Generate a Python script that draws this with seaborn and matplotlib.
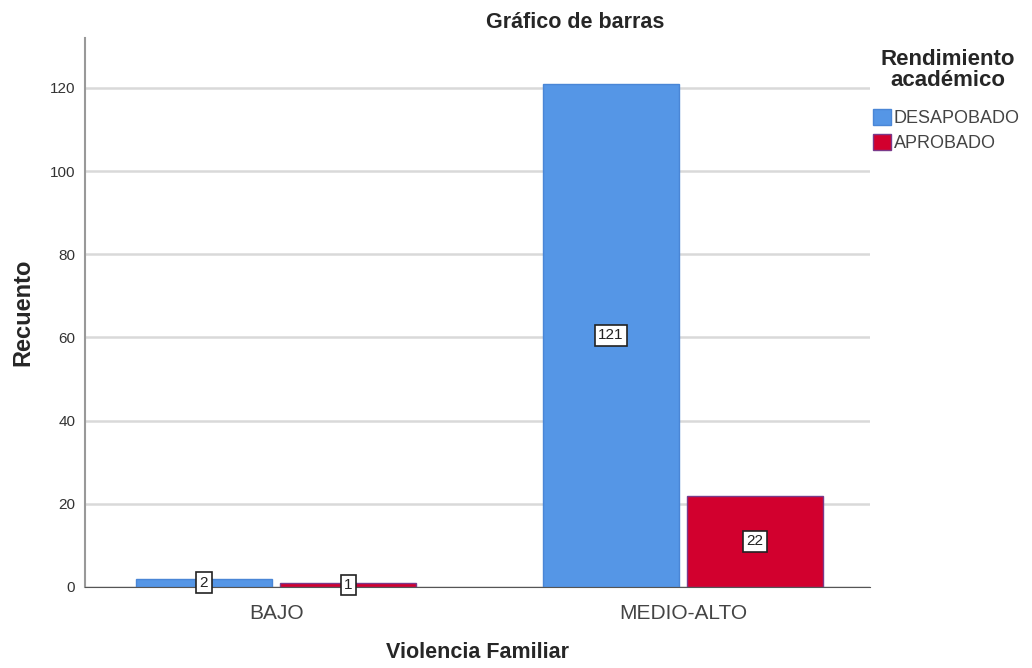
import pandas as pd
import seaborn as sns
import matplotlib.pyplot as plt
from matplotlib.patches import Patch

# datos
violencia = ['BAJO', 'BAJO', 'MEDIO-ALTO', 'MEDIO-ALTO']
rendimiento = ['DESAPOBADO', 'APROBADO', 'DESAPOBADO', 'APROBADO']
recuento = [2, 1, 121, 22]
niveles = ['DESAPOBADO', 'APROBADO']
colores = ['#5596E6', '#D2002E']
bordes = ['#4a86d6', '#7a3a8a']

df = pd.DataFrame({'Violencia Familiar': violencia,
                   'Rendimiento académico': rendimiento,
                   'Recuento': recuento})

sns.set_style('white')
plt.rcParams['font.family'] = ['Liberation Sans', 'DejaVu Sans']

fig = plt.figure(figsize=(10.32, 6.68), dpi=100)
ax = fig.add_axes([85 / 1032, 1 - 587 / 668, 785 / 1032, 549 / 668])

sns.barplot(data=df, x='Violencia Familiar', y='Recuento',
            hue='Rendimiento académico', hue_order=niveles,
            palette=colores, saturation=1, width=0.71, gap=0.06,
            ax=ax, legend=False, linewidth=1)

# bordes y etiquetas en el centro de cada barra
for cont, borde in zip(ax.containers, bordes):
    for bar in cont:
        bar.set_edgecolor(borde)
        h = bar.get_height()
        ax.text(bar.get_x() + bar.get_width() / 2, h / 2, f'{h:.0f}',
                ha='center', va='center', fontsize=11, color='#222222',
                bbox=dict(boxstyle='square,pad=0.22', fc='white', ec='#222222', lw=1.2))

ax.set_ylim(0, 132)
ax.set_xlim(-0.47, 1.46)
ax.set_yticks([0, 20, 40, 60, 80, 100, 120])
ax.yaxis.grid(True, color='#d9d9d9', lw=1.8)
ax.set_axisbelow(True)
for s in ['top', 'right']:
    ax.spines[s].set_visible(False)
ax.spines['left'].set_color('#999999')
ax.spines['left'].set_linewidth(1.5)
ax.spines['bottom'].set_color('#555555')
ax.tick_params(axis='y', labelsize=11, colors='#333333', length=0, pad=7)
ax.tick_params(axis='x', labelsize=15, colors='#444444', length=0, pad=12)
ax.set_xlabel('Violencia Familiar', fontsize=15.5, fontweight='bold', labelpad=14)
ax.set_ylabel('Recuento', fontsize=17, fontweight='bold', labelpad=11)

fig.text(575 / 1032, 1 - 22 / 668, 'Gráfico de barras', ha='center', va='center',
         fontsize=15.5, fontweight='bold')

# título de la leyenda aparte para controlar el espacio
fig.text(948 / 1032, 1 - 70 / 668, 'Rendimiento\nacadémico', ha='center', va='center',
         fontsize=16, fontweight='bold', multialignment='center', linespacing=1.05)

handles = [Patch(facecolor=c, edgecolor=b) for c, b in zip(colores, bordes)]
leg = fig.legend(handles, niveles,
                 loc='upper left', bbox_to_anchor=(866 / 1032, 1 - 102 / 668),
                 frameon=False, fontsize=13,
                 handlelength=1.0, handleheight=1.0, handletextpad=0.15,
                 labelspacing=0.35, labelcolor='#444444', borderaxespad=0)

fig.savefig('out.png', dpi=100)
